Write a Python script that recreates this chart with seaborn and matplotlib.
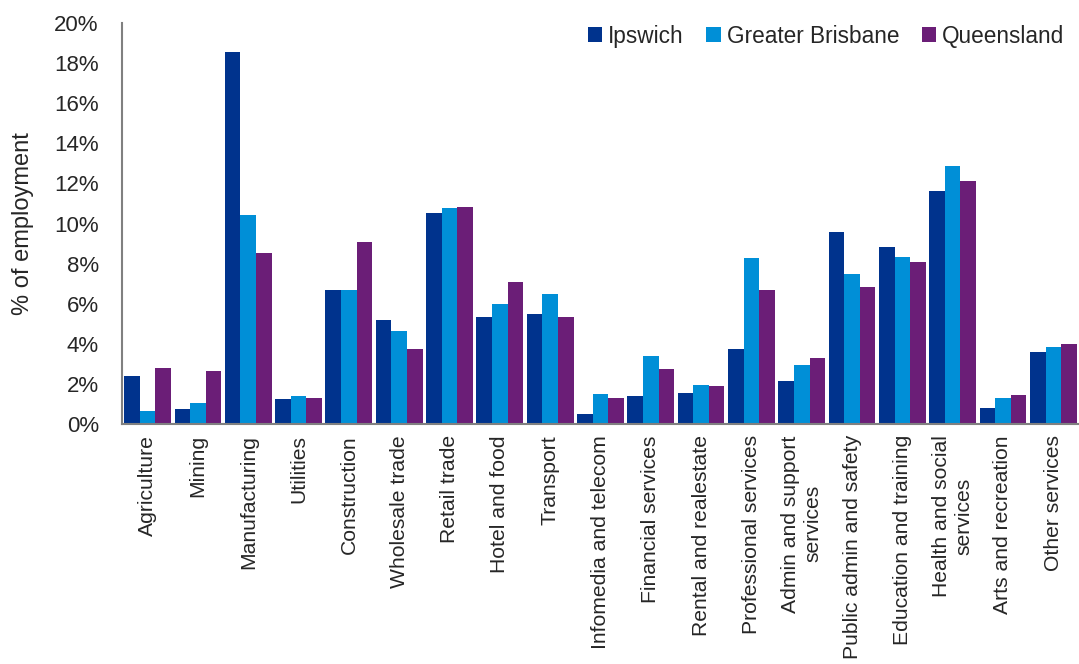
import numpy as np
import pandas as pd
import matplotlib
matplotlib.use("Agg")
import matplotlib.pyplot as plt
import seaborn as sns
from matplotlib.ticker import FixedLocator, PercentFormatter

industries = [
    "Agriculture", "Mining", "Manufacturing", "Utilities", "Construction",
    "Wholesale trade", "Retail trade", "Hotel and food", "Transport",
    "Infomedia and telecom", "Financial services", "Rental and realestate",
    "Professional services", "Admin and support\nservices",
    "Public admin and safety", "Education and training",
    "Health and social\nservices", "Arts and recreation", "Other services",
]
ipswich = [2.4, 0.73, 18.57, 1.25, 6.7, 5.2, 10.52, 5.33, 5.5, 0.5, 1.4,
           1.55, 3.75, 2.13, 9.6, 8.82, 11.6, 0.78, 3.57]
greater_brisbane = [0.67, 1.05, 10.4, 1.38, 6.7, 4.65, 10.77, 6.0, 6.47, 1.5,
                    3.38, 1.93, 8.3, 2.95, 7.5, 8.32, 12.87, 1.3, 3.83]
queensland = [2.8, 2.65, 8.53, 1.3, 9.08, 3.72, 10.83, 7.08, 5.32, 1.32, 2.75,
              1.9, 6.68, 3.27, 6.85, 8.1, 12.1, 1.47, 3.98]
regions = ["Ipswich", "Greater Brisbane", "Queensland"]
colors = ["#00338D", "#008FD7", "#6B1E77"]

df = pd.DataFrame({
    "industry": industries * 3,
    "region": np.repeat(regions, len(industries)),
    "share": ipswich + greater_brisbane + queensland,
})

sns.set_style("white")
plt.rcParams["font.family"] = ["Liberation Sans", "DejaVu Sans"]

fig = plt.figure(figsize=(10.79, 6.64), dpi=100)
ax = fig.add_axes([0.1135, 0.3614, 0.886, 0.604])

sns.barplot(data=df, x="industry", y="share", hue="region",
            palette=colors, saturation=1, width=0.93, ax=ax,
            edgecolor="none", linewidth=0, legend=True)

ax.set_xlim(-0.5, len(industries) - 0.5)
ax.set_ylim(0, 20)
ax.set_yticks(np.arange(0, 21, 2))
ax.yaxis.set_major_formatter(PercentFormatter(decimals=0))
ax.set_ylabel("% of employment", fontsize=17)
ax.yaxis.set_label_coords(-0.093, 0.5)
ax.set_xlabel("")

ax.set_xticks(range(len(industries)))
ax.set_xticklabels(industries, rotation=90, fontsize=15.2,
                   ha="center", va="top", multialignment="center")
ax.xaxis.set_minor_locator(FixedLocator(np.arange(-0.5, len(industries), 1)))
ax.tick_params(axis="x", which="major", length=0, pad=8)
ax.tick_params(axis="x", which="minor", length=6, width=1.2,
               color="#707070", direction="out")
ax.tick_params(axis="y", which="major", length=6, width=1.2,
               color="#404040", direction="out", labelsize=16, pad=11)

for side in ["top", "right"]:
    ax.spines[side].set_visible(False)
for side in ["left", "bottom"]:
    ax.spines[side].set_color("#808080")
    ax.spines[side].set_linewidth(1.5)

handles, labels = ax.get_legend_handles_labels()
ax.legend(handles, labels, loc="upper right", bbox_to_anchor=(0.995, 1.018),
          ncol=3, frameon=False, fontsize=16.3, handlelength=0.63,
          handleheight=0.63, handletextpad=0.27, columnspacing=1.0,
          borderaxespad=0.0)

fig.savefig("out.png", dpi=100)
